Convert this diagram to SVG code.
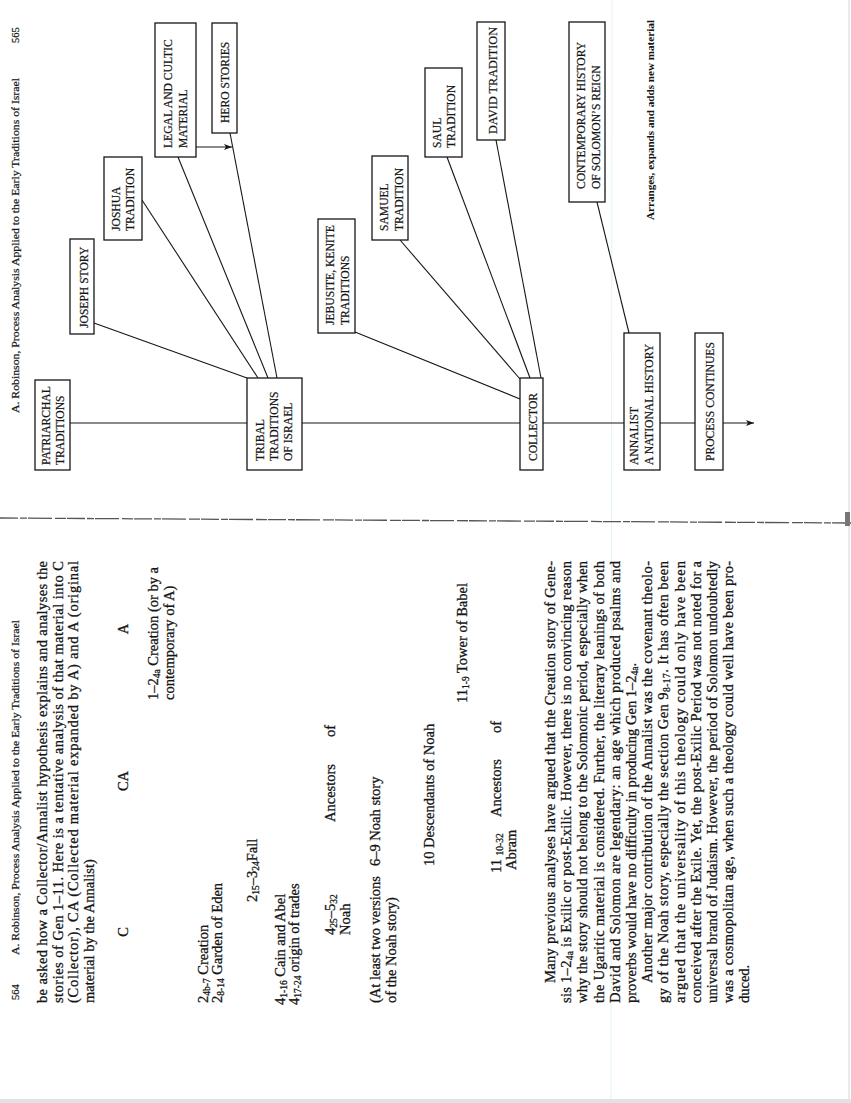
<svg xmlns="http://www.w3.org/2000/svg" width="851" height="1103" viewBox="0 0 851 1103">
<defs>
<style>
text{font-family:"Liberation Serif","Times New Roman",serif;fill:#161616;stroke:#161616;stroke-width:0.22px}
.hdr{font-size:10.5px}
.lbl{font-size:11.6px}
.bd{font-size:14.5px;stroke-width:0.3px}
.sub{font-size:9.5px}
.note{font-size:10.5px;font-weight:bold;stroke-width:0.05px}
.box{fill:#fff;stroke:#161616;stroke-width:1.3}
.cn{fill:none;stroke:#161616;stroke-width:1.1}
</style>
<marker id="ah" viewBox="0 0 8 6" refX="8" refY="3" markerWidth="8" markerHeight="6" markerUnits="userSpaceOnUse" orient="auto"><path d="M0,0 L8,3 L0,6 L2,3 z" fill="#161616"/></marker>
</defs>
<rect width="851" height="1103" fill="#fff"/>
<g id="scan">
<line x1="612" y1="0" x2="611" y2="1103" stroke="#e3f3f5" stroke-width="1"/>
<line x1="849" y1="0" x2="849" y2="1103" stroke="#d4e0e0" stroke-width="1.2"/>
<path d="M0,518 L851,523" stroke="#555" stroke-width="1.3" stroke-dasharray="18 2 7 1 24 3 11 1" fill="none"/>
<rect x="845" y="512" width="5" height="14" fill="#777"/>
<rect x="0" y="1099" width="851" height="4" fill="#e2e2e2"/>
</g>
<g id="header565">
<text class="hdr" transform="matrix(0,-1,1,0,19,413)" textLength="335" lengthAdjust="spacingAndGlyphs">A. Robinson, Process Analysis Applied to the Early Traditions of Israel</text>
<text class="hdr" transform="matrix(0,-1,1,0,19,43)">565</text>
</g>
<g id="connectors">
<path class="cn" d="M70,423 H754" marker-end="url(#ah)"/>
<path class="cn" d="M94,323 L247,378"/>
<path class="cn" d="M142,200 L258,378"/>
<path class="cn" d="M178,157 L268,378"/>
<path class="cn" d="M230,133 L277,378"/>
<path class="cn" d="M196,147 H232" marker-end="url(#ah)"/>
<path class="cn" d="M355,332 L520,399"/>
<path class="cn" d="M400,240 L520,379"/>
<path class="cn" d="M447,157 L530,378"/>
<path class="cn" d="M496,140 L541,378"/>
<path class="cn" d="M597,202 L629,333"/>
</g>
<g id="patriarchal"><rect class="box" x="35" y="380" width="35" height="90"/>
<text class="lbl" transform="matrix(0,-1,1,0,50,465)">PATRIARCHAL</text>
<text class="lbl" transform="matrix(0,-1,1,0,64,465)">TRADITIONS</text></g>
<g id="tribal"><rect class="box" x="247" y="378" width="55" height="92"/>
<text class="lbl" transform="matrix(0,-1,1,0,264,461)">TRIBAL</text>
<text class="lbl" transform="matrix(0,-1,1,0,278,461)">TRADITIONS</text>
<text class="lbl" transform="matrix(0,-1,1,0,292,461)">OF ISRAEL</text></g>
<g id="joseph"><rect class="box" x="70" y="239" width="24" height="95"/>
<text class="lbl" transform="matrix(0,-1,1,0,87.5,328)">JOSEPH STORY</text></g>
<g id="joshua"><rect class="box" x="104" y="157" width="38" height="83"/>
<text class="lbl" transform="matrix(0,-1,1,0,120,231)">JOSHUA</text>
<text class="lbl" transform="matrix(0,-1,1,0,134,231)">TRADITION</text></g>
<g id="legal"><rect class="box" x="155" y="23" width="41" height="134"/>
<text class="lbl" transform="matrix(0,-1,1,0,172,148)">LEGAL AND CULTIC</text>
<text class="lbl" transform="matrix(0,-1,1,0,187,148)">MATERIAL</text></g>
<g id="hero"><rect class="box" x="212" y="23" width="25" height="110"/>
<text class="lbl" transform="matrix(0,-1,1,0,229,123)">HERO STORIES</text></g>
<g id="jebusite"><rect class="box" x="318" y="219" width="37" height="114"/>
<text class="lbl" transform="matrix(0,-1,1,0,334,325)">JEBUSITE, KENITE</text>
<text class="lbl" transform="matrix(0,-1,1,0,349,325)">TRADITIONS</text></g>
<g id="samuel"><rect class="box" x="372" y="156" width="36" height="84"/>
<text class="lbl" transform="matrix(0,-1,1,0,388,231)">SAMUEL</text>
<text class="lbl" transform="matrix(0,-1,1,0,403,231)">TRADITION</text></g>
<g id="saul"><rect class="box" x="425" y="68" width="37" height="89"/>
<text class="lbl" transform="matrix(0,-1,1,0,441,148)">SAUL</text>
<text class="lbl" transform="matrix(0,-1,1,0,455,148)">TRADITION</text></g>
<g id="david"><rect class="box" x="477" y="22" width="28" height="118"/>
<text class="lbl" transform="matrix(0,-1,1,0,497,134)" textLength="107" lengthAdjust="spacingAndGlyphs">DAVID TRADITION</text></g>
<g id="collector"><rect class="box" x="520" y="378" width="23" height="92"/>
<text class="lbl" transform="matrix(0,-1,1,0,537,461)">COLLECTOR</text></g>
<g id="solomon"><rect class="box" x="569" y="22" width="36" height="180"/>
<text class="lbl" transform="matrix(0,-1,1,0,585,189)">CONTEMPORARY HISTORY</text>
<text class="lbl" transform="matrix(0,-1,1,0,600,189)">OF SOLOMON’S REIGN</text></g>
<g id="annalist"><rect class="box" x="624" y="333" width="36" height="137"/>
<text class="lbl" transform="matrix(0,-1,1,0,638,465)">ANNALIST</text>
<text class="lbl" transform="matrix(0,-1,1,0,653,465)">A NATIONAL HISTORY</text></g>
<g id="process"><rect class="box" x="695" y="333" width="28" height="137"/>
<text class="lbl" transform="matrix(0,-1,1,0,714,461)">PROCESS CONTINUES</text></g>
<g id="note"><text class="note" transform="matrix(0,-1,1,0,654,220)" textLength="200" lengthAdjust="spacingAndGlyphs">Arranges, expands and adds new material</text></g>
<g id="page564">
<text class="hdr" transform="matrix(0,-1,1,0,19,1000)">564</text>
<text class="hdr" transform="matrix(0,-1,1,0,19,955)" textLength="335" lengthAdjust="spacingAndGlyphs">A. Robinson, Process Analysis Applied to the Early Traditions of Israel</text>
<g class="bd">
<text class="bd" transform="matrix(0,-1,1,0,47,1003)" textLength="442">be asked how a Collector/Annalist hypothesis explains and analyses the</text>
<text class="bd" transform="matrix(0,-1,1,0,62.5,1003)" textLength="442">stories of Gen 1–11. Here is a tentative analysis of that material into C</text>
<text class="bd" transform="matrix(0,-1,1,0,78,1003)" textLength="442">(Collector), CA (Collected material expanded by A) and A (original</text>
<text class="bd" transform="matrix(0,-1,1,0,93.5,1003)">material by the Annalist)</text>
<text class="bd" transform="matrix(0,-1,1,0,128,932)" text-anchor="middle">C</text>
<text class="bd" transform="matrix(0,-1,1,0,128,781)" text-anchor="middle">CA</text>
<text class="bd" transform="matrix(0,-1,1,0,128,629)" text-anchor="middle">A</text>
<text class="bd" transform="matrix(0,-1,1,0,158,700)">1–2<tspan class="sub" dy="2">4a</tspan><tspan dy="-2"> Creation (or by a</tspan></text>
<text class="bd" transform="matrix(0,-1,1,0,174,700)">contemporary of A)</text>
<text class="bd" transform="matrix(0,-1,1,0,208,1003)">2<tspan class="sub" dy="2">4b-7</tspan><tspan dy="-2"> Creation</tspan></text>
<text class="bd" transform="matrix(0,-1,1,0,222,1003)">2<tspan class="sub" dy="2">8-14</tspan><tspan dy="-2"> Garden of Eden</tspan></text>
<text class="bd" transform="matrix(0,-1,1,0,257,902)">2<tspan class="sub" dy="2">15</tspan><tspan dy="-2">–3</tspan><tspan class="sub" dy="2">24</tspan><tspan dy="-2">Fall</tspan></text>
<text class="bd" transform="matrix(0,-1,1,0,285,1005)">4<tspan class="sub" dy="2">1-16</tspan><tspan dy="-2"> Cain and Abel</tspan></text>
<text class="bd" transform="matrix(0,-1,1,0,299,1005)">4<tspan class="sub" dy="2">17-24</tspan><tspan dy="-2"> origin of trades</tspan></text>
<text class="bd" transform="matrix(0,-1,1,0,335,935)">4<tspan class="sub" dy="2">25</tspan><tspan dy="-2">–5</tspan><tspan class="sub" dy="2">32</tspan></text>
<text class="bd" transform="matrix(0,-1,1,0,335,822)">Ancestors</text>
<text class="bd" transform="matrix(0,-1,1,0,335,737)">of</text>
<text class="bd" transform="matrix(0,-1,1,0,350,935)">Noah</text>
<text class="bd" transform="matrix(0,-1,1,0,380,1003)">(At least two versions</text>
<text class="bd" transform="matrix(0,-1,1,0,396,1003)">of the Noah story)</text>
<text class="bd" transform="matrix(0,-1,1,0,380,866)">6–9 Noah story</text>
<text class="bd" transform="matrix(0,-1,1,0,434,866)">10 Descendants of Noah</text>
<text class="bd" transform="matrix(0,-1,1,0,467,703)">11<tspan class="sub" dy="2">1-9</tspan><tspan dy="-2"> Tower of Babel</tspan></text>
<text class="bd" transform="matrix(0,-1,1,0,501,873)">11 <tspan class="sub" dy="2">10-32</tspan></text>
<text class="bd" transform="matrix(0,-1,1,0,501,817)">Ancestors</text>
<text class="bd" transform="matrix(0,-1,1,0,501,733)">of</text>
<text class="bd" transform="matrix(0,-1,1,0,516,870)">Abram</text>
<text class="bd" transform="matrix(0,-1,1,0,555,983)" textLength="422">Many previous analyses have argued that the Creation story of Gene-</text>
<text class="bd" transform="matrix(0,-1,1,0,571.2,1003)" textLength="442">sis 1–2<tspan class="sub" dy="2">4a</tspan><tspan dy="-2"> is Exilic or post-Exilic. However, there is no convincing reason</tspan></text>
<text class="bd" transform="matrix(0,-1,1,0,587.4,1003)" textLength="442">why the story should not belong to the Solomonic period, especially when</text>
<text class="bd" transform="matrix(0,-1,1,0,603.6,1003)" textLength="442">the Ugaritic material is considered. Further, the literary leanings of both</text>
<text class="bd" transform="matrix(0,-1,1,0,619.8,1003)" textLength="442">David and Solomon are legendary: an age which produced psalms and</text>
<text class="bd" transform="matrix(0,-1,1,0,636,1003)">proverbs would have no difficulty in producing Gen 1–2<tspan class="sub" dy="2">4a</tspan><tspan dy="-2">.</tspan></text>
<text class="bd" transform="matrix(0,-1,1,0,652.2,983)" textLength="422">Another major contribution of the Annalist was the covenant theolo-</text>
<text class="bd" transform="matrix(0,-1,1,0,668.4,1003)" textLength="442">gy of the Noah story, especially the section Gen 9<tspan class="sub" dy="2">8-17</tspan><tspan dy="-2">. It has often been</tspan></text>
<text class="bd" transform="matrix(0,-1,1,0,684.6,1003)" textLength="442">argued that the universality of this theology could only have been</text>
<text class="bd" transform="matrix(0,-1,1,0,700.8,1003)" textLength="442">conceived after the Exile. Yet, the post-Exilic Period was not noted for a</text>
<text class="bd" transform="matrix(0,-1,1,0,717,1003)" textLength="442">universal brand of Judaism. However, the period of Solomon undoubtedly</text>
<text class="bd" transform="matrix(0,-1,1,0,733.2,1003)" textLength="442">was a cosmopolitan age, when such a theology could well have been pro-</text>
<text class="bd" transform="matrix(0,-1,1,0,749.4,1003)">duced.</text>
</g>
</g>
</svg>
